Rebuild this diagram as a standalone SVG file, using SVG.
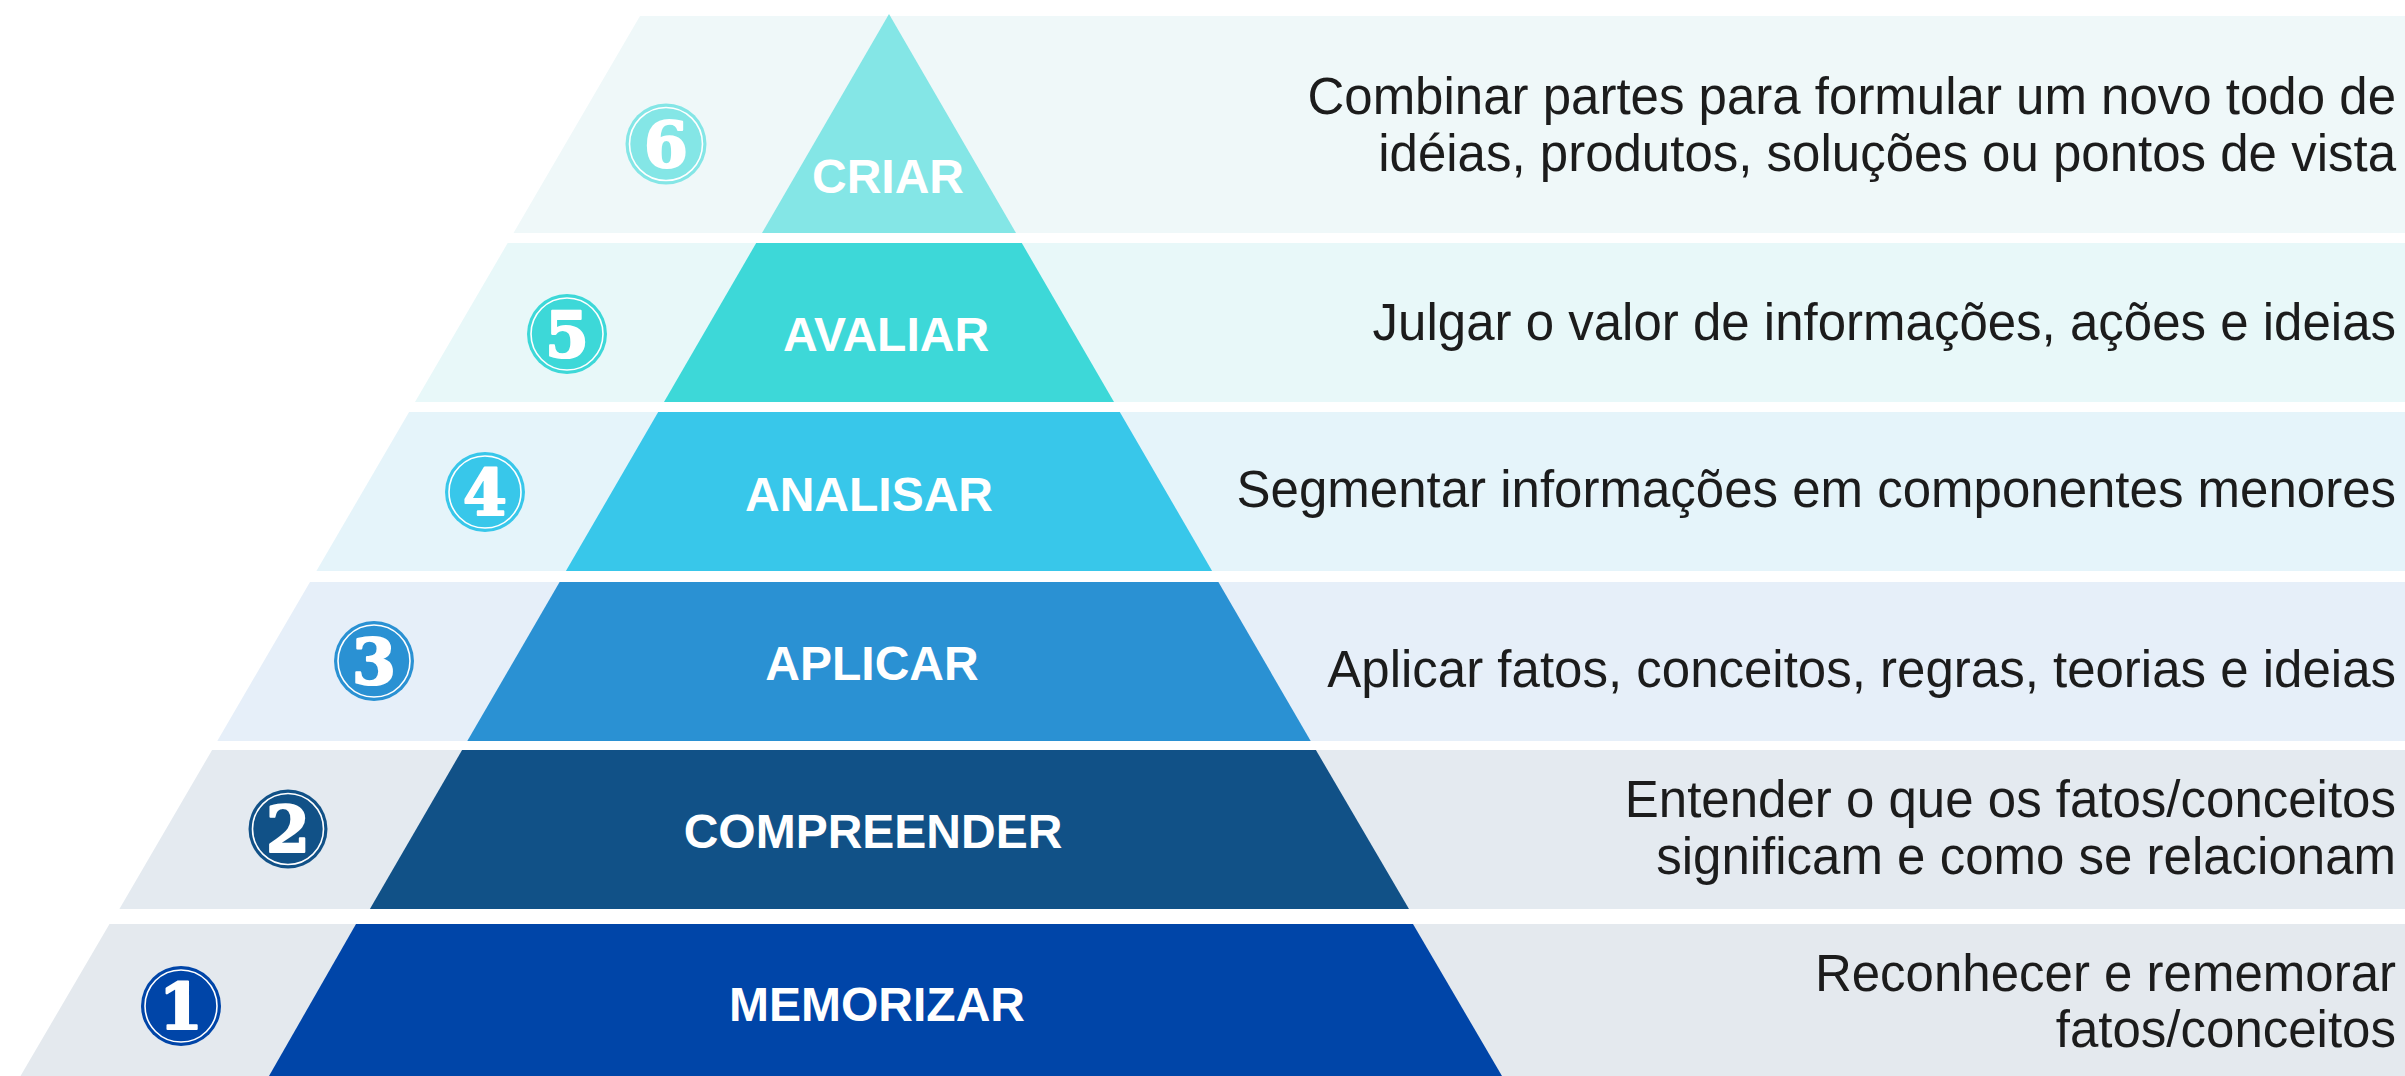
<svg xmlns="http://www.w3.org/2000/svg" width="2405" height="1076" viewBox="0 0 2405 1076">
<style>
.lbl{font-family:"Liberation Sans",Arial,sans-serif;font-weight:bold;font-size:48px;fill:#ffffff;text-anchor:middle}
.desc{font-family:"Liberation Sans",Arial,sans-serif;font-size:51px;fill:#1c1c1c;text-anchor:end}
.num{font-family:"DejaVu Serif",serif;font-weight:bold;font-size:63px;fill:#ffffff;stroke:#ffffff;stroke-width:2.2;stroke-linejoin:round;text-anchor:middle}
.ring{fill:none;stroke:#ffffff;stroke-width:1.6}
</style>
<rect x="0" y="0" width="2405" height="1076" fill="#ffffff"/>
<g id="connectors"/>
<g id="level6">
<polygon points="640,16 2405,16 2405,233 513.5,233" fill="#eff8f9"/>
<polygon points="889,14 1016,233 762,233" fill="#84e6e6"/>
<circle cx="666" cy="144" r="40.5" fill="#84e6e6"/>
<circle class="ring" cx="666" cy="144" r="36.5"/>
<text class="num" x="666" y="167">6</text>
<text class="lbl" x="888" y="193">CRIAR</text>
<text class="desc" x="2396" y="114">Combinar partes para formular um novo todo de</text>
<text class="desc" x="2396" y="171">idéias, produtos, soluções ou pontos de vista</text>
</g>
<g id="level5">
<polygon points="507.7,243 2405,243 2405,402 415,402" fill="#e8f8f9"/>
<polygon points="756.2,243 1021.8,243 1114,402 664,402" fill="#3dd8d8"/>
<circle cx="567" cy="334" r="40" fill="#3dd8d8"/>
<circle class="ring" cx="567" cy="334" r="36"/>
<text class="num" x="567" y="357">5</text>
<text class="lbl" x="886" y="351">AVALIAR</text>
<text class="desc" x="2396" y="340">Julgar o valor de informações, ações e ideias</text>
</g>
<g id="level4">
<polygon points="409.1,412 2405,412 2405,571 316.4,571" fill="#e5f4fa"/>
<polygon points="658.2,412 1119.8,412 1212.1,571 565.9,571" fill="#38c7ea"/>
<circle cx="485" cy="492" r="40" fill="#38c7ea"/>
<circle class="ring" cx="485" cy="492" r="36"/>
<text class="num" x="485" y="515">4</text>
<text class="lbl" x="869" y="511">ANALISAR</text>
<text class="desc" x="2396" y="507">Segmentar informações em componentes menores</text>
</g>
<g id="level3">
<polygon points="310,582 2405,582 2405,741 217.3,741" fill="#e6eff9"/>
<polygon points="559.6,582 1218.4,582 1310.7,741 467.3,741" fill="#2a91d3"/>
<circle cx="374" cy="661" r="40" fill="#2a91d3"/>
<circle class="ring" cx="374" cy="661" r="36"/>
<text class="num" x="374" y="684">3</text>
<text class="lbl" x="872" y="680">APLICAR</text>
<text class="desc" x="2396" y="687">Aplicar fatos, conceitos, regras, teorias e ideias</text>
</g>
<g id="level2">
<polygon points="212.1,750 2405,750 2405,909 119.4,909" fill="#e4eaf0"/>
<polygon points="462.1,750 1315.9,750 1409,909 369.9,909" fill="#115187"/>
<circle cx="288" cy="829" r="39.5" fill="#115187"/>
<circle class="ring" cx="288" cy="829" r="35.5"/>
<text class="num" x="288" y="852">2</text>
<text class="lbl" x="873" y="848">COMPREENDER</text>
<text class="desc" x="2396" y="817">Entender o que os fatos/conceitos</text>
<text class="desc" x="2396" y="874">significam e como se relacionam</text>
</g>
<g id="level1">
<polygon points="109.5,924 2405,924 2405,1076 20.5,1076" fill="#e4e9ee"/>
<polygon points="356,924 1413,924 1502,1076 269,1076" fill="#0045a8"/>
<circle cx="181" cy="1006" r="40" fill="#0045a8"/>
<circle class="ring" cx="181" cy="1006" r="36"/>
<text class="num" x="181" y="1029">1</text>
<text class="lbl" x="877" y="1021">MEMORIZAR</text>
<text class="desc" x="2396" y="991">Reconhecer e rememorar</text>
<text class="desc" x="2396" y="1047">fatos/conceitos</text>
</g>
</svg>
